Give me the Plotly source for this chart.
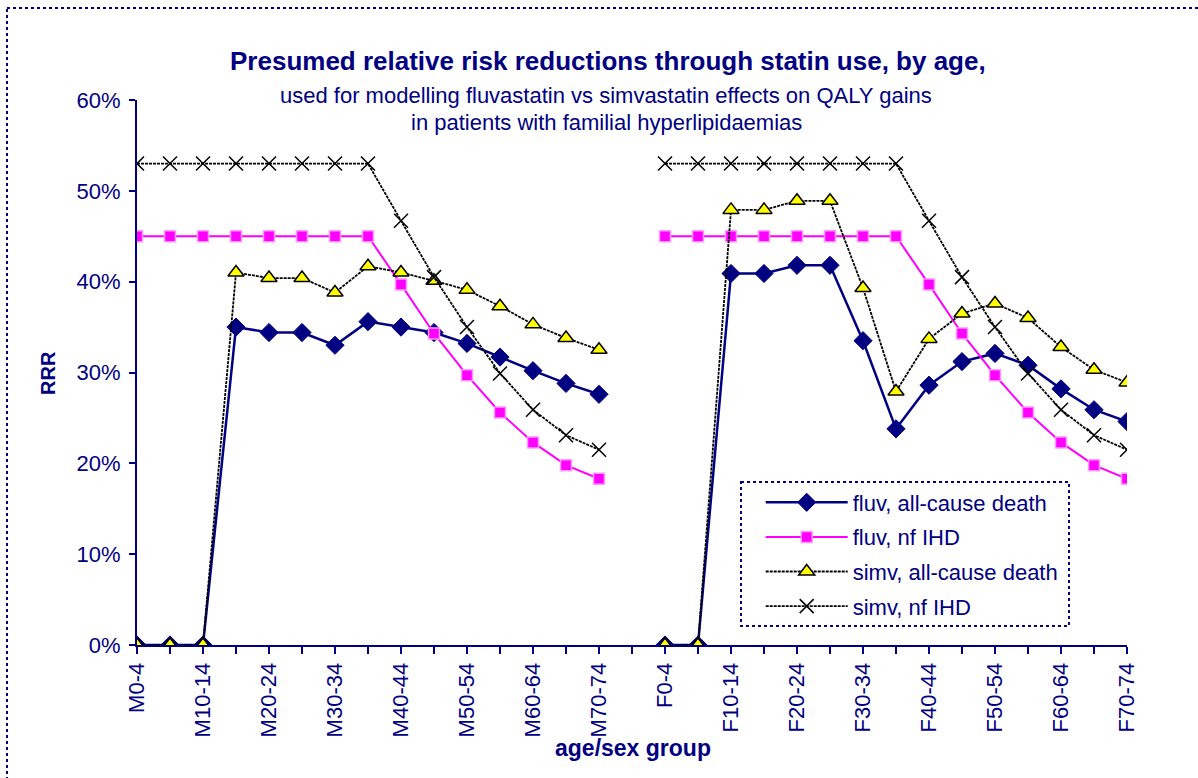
import plotly.graph_objects as go

# ---- data ----
age_groups = ["0-4", "5-9", "10-14", "15-19", "20-24", "25-29", "30-34", "35-39",
              "40-44", "45-49", "50-54", "55-59", "60-64", "65-69", "70-74"]
categories = ["M" + a for a in age_groups] + [" "] + ["F" + a for a in age_groups]

fluv_all_M = [0, 0, 0, 35.0, 34.4, 34.4, 33.0, 35.6, 35.0, 34.4, 33.2, 31.7, 30.2, 28.8, 27.6]
fluv_nf_M = [45, 45, 45, 45, 45, 45, 45, 45, 39.7, 34.3, 29.7, 25.6, 22.3, 19.8, 18.3]
simv_all_M = [0, 0, 0, 41.0, 40.4, 40.4, 38.8, 41.7, 41.0, 40.1, 39.1, 37.3, 35.3, 33.8, 32.5]
simv_nf_M = [53, 53, 53, 53, 53, 53, 53, 53, 46.7, 40.5, 35.0, 29.9, 25.9, 23.1, 21.5]

fluv_all_F = [0, 0, 40.9, 40.9, 41.8, 41.8, 33.5, 23.8, 28.6, 31.2, 32.1, 30.8, 28.2, 25.9, 24.6]
fluv_nf_F = [45, 45, 45, 45, 45, 45, 45, 45, 39.7, 34.3, 29.7, 25.6, 22.3, 19.8, 18.3]
simv_all_F = [0, 0, 47.9, 47.9, 48.9, 48.9, 39.3, 27.9, 33.7, 36.5, 37.6, 36.0, 32.8, 30.3, 28.9]
simv_nf_F = [53, 53, 53, 53, 53, 53, 53, 53, 46.7, 40.5, 35.0, 29.9, 25.9, 23.1, 21.5]

y_ticks = [0, 10, 20, 30, 40, 50, 60]
y_ticktext = ["0%", "10%", "20%", "30%", "40%", "50%", "60%"]

title_main = "Presumed relative risk reductions through statin use, by age,"
subtitle1 = "used for modelling fluvastatin vs simvastatin effects on QALY gains"
subtitle2 = "in patients with familial hyperlipidaemias"

NAVY = "#000080"
FONT = "Arial, 'Liberation Sans', sans-serif"

def join(m, f):
    return m + [None] + f

fig = go.Figure()
fig.add_trace(go.Scatter(
    x=categories, y=join(fluv_all_M, fluv_all_F), name="fluv, all-cause death",
    legendgroup="a", mode="lines+markers", line=dict(color=NAVY, width=2.5),
    marker=dict(symbol="diamond", size=14, color=NAVY, line=dict(color=NAVY, width=1))))
fig.add_trace(go.Scatter(
    x=categories, y=join(fluv_nf_M, fluv_nf_F), name="fluv, nf IHD",
    legendgroup="b", mode="lines+markers", line=dict(color="#ff00ff", width=2),
    marker=dict(symbol="square", size=11, color="#ff00ff", line=dict(color="#ff99ff", width=1.5))))
fig.add_trace(go.Scatter(
    x=categories, y=join(simv_all_M, simv_all_F), name="simv, all-cause death",
    legendgroup="c", mode="lines+markers", line=dict(color="black", width=1.8, dash="3px,1px"),
    marker=dict(symbol="triangle-up", size=14, color="#ffff00", line=dict(color="black", width=1.5))))
fig.add_trace(go.Scatter(
    x=categories, y=join(simv_nf_M, simv_nf_F), name="simv, nf IHD",
    legendgroup="d", mode="lines+markers", line=dict(color="black", width=1.8, dash="3px,1px"),
    marker=dict(symbol="x-thin", size=14, color="black", line=dict(color="black", width=1.5))))

ticktext = [c if (i % 2 == 0 and c.strip()) else "" for i, c in enumerate(categories)]

fig.update_layout(
    width=1198, height=778,
    margin=dict(l=137, r=71, t=100, b=133),
    paper_bgcolor="white", plot_bgcolor="white",
    font=dict(family=FONT, color=NAVY, size=22),
    showlegend=True,
    legend=dict(x=0.630, y=0.300, xanchor="left", yanchor="top",
                bgcolor="rgba(0,0,0,0)", borderwidth=0, itemwidth=82,
                font=dict(family=FONT, color=NAVY, size=22),
                tracegroupgap=3, traceorder="grouped"),
    xaxis=dict(type="category", categoryorder="array", categoryarray=categories,
               range=[0, 30], tickmode="array", tickvals=categories, ticktext=ticktext,
               tickangle=-90, ticks="outside", ticklen=7, tickwidth=2, tickcolor=NAVY,
               showline=True, linecolor=NAVY, linewidth=2, showgrid=False, zeroline=False,
               tickfont=dict(family=FONT, color=NAVY, size=22)),
    yaxis=dict(range=[0, 60], tickmode="array", tickvals=y_ticks, ticktext=y_ticktext,
               ticks="outside", ticklen=6, tickwidth=2, tickcolor=NAVY, ticklabelstandoff=4,
               showline=True, linecolor=NAVY, linewidth=2, showgrid=False, zeroline=False,
               tickfont=dict(family=FONT, color=NAVY, size=22)),
    xaxis2=dict(overlaying="x", anchor="y", side="bottom", range=[0, 30],
                tickmode="array", tickvals=list(range(len(categories))), ticks="inside",
                ticklen=7, tickwidth=2, tickcolor=NAVY, showticklabels=False,
                showline=False, showgrid=False, zeroline=False),
    yaxis2=dict(overlaying="y", anchor="x", side="left", range=[0, 60],
                tickmode="array", tickvals=y_ticks, ticks="inside", ticklen=6, tickwidth=2,
                tickcolor=NAVY, showticklabels=False, showline=False, showgrid=False,
                zeroline=False),
)

def px_x(p):
    return (p - 137) / 990.0

def px_y(p):
    return (645 - p) / 545.0

annotations = [
    dict(text="<b>" + title_main + "</b>", x=px_x(608), y=px_y(61), font=dict(size=26)),
    dict(text=subtitle1, x=px_x(606), y=px_y(95), font=dict(size=22)),
    dict(text=subtitle2, x=px_x(606), y=px_y(123), font=dict(size=22)),
    dict(text="<b>RRR</b>", x=px_x(48), y=px_y(373), textangle=-90, font=dict(size=20)),
    dict(text="<b>age/sex group</b>", x=px_x(633), y=px_y(748), font=dict(size=23)),
]
for a in annotations:
    a.update(xref="paper", yref="paper", showarrow=False, xanchor="center", yanchor="middle")
    a["font"].update(family=FONT, color=NAVY)
fig.update_layout(annotations=annotations)

fig.add_shape(type="rect", xref="paper", yref="paper",
              x0=px_x(7), x1=px_x(1215), y0=px_y(8), y1=px_y(800),
              line=dict(color=NAVY, width=2, dash="dot"), layer="below")
fig.add_shape(type="rect", xref="paper", yref="paper",
              x0=px_x(741), x1=px_x(1069), y0=px_y(482), y1=px_y(626),
              line=dict(color=NAVY, width=2, dash="dot"), fillcolor="white", layer="above")

fig.write_html("out.html")
